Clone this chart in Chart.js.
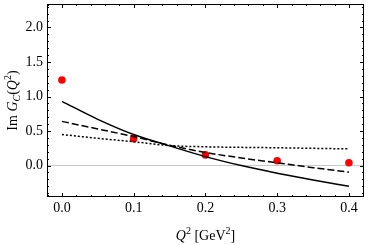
<!DOCTYPE html>
<html>
<head>
<meta charset="utf-8">
<script src="https://cdn.jsdelivr.net/npm/chart.js@4"></script>
<style>
html, body { margin: 0; padding: 0; background: #fff; }
#wrap { width: 368px; height: 245px; }
</style>
</head>
<body>
<div id="wrap"><canvas id="myChart"></canvas></div>
<script>
// data points (red dots)
var qPoints = [0, 0.1, 0.2, 0.3, 0.4];
var gPoints = [1.24, 0.39, 0.155, 0.07, 0.04];
// model curves
var qCurve = [0, 0.05, 0.1, 0.15, 0.2, 0.25, 0.3, 0.35, 0.4];
var solidCurve = [0.93, 0.67, 0.45, 0.285, 0.13, 0.0, -0.11, -0.21, -0.30];
var dashedCurve = [0.64, 0.53, 0.42, 0.295, 0.19, 0.11, 0.04, -0.03, -0.095];
var dottedCurve = [0.45, 0.395, 0.345, 0.29, 0.272, 0.264, 0.258, 0.25, 0.242];
// tick labels
var xTicks = [0, 0.1, 0.2, 0.3, 0.4];
var yTicks = [0, 0.5, 1, 1.5, 2];

var serif = "'Liberation Serif', 'DejaVu Serif', serif";

function pts(xs, ys) {
    return xs.map(function (x, i) { return {x: x, y: ys[i]}; });
}

function curve(ys, dash) {
    return {
        type: 'line',
        data: pts(qCurve, ys),
        borderColor: '#000',
        borderWidth: 1.5,
        borderDash: dash,
        pointRadius: 0,
        cubicInterpolationMode: 'monotone',
        fill: false
    };
}

// draws mixed-style text runs, returns width
function runs(ctx, items, x, y, measureOnly) {
    var w = 0;
    items.forEach(function (r) {
        ctx.font = (r.italic ? 'italic ' : '') + r.size + 'px ' + serif;
        if (!measureOnly) ctx.fillText(r.t, x + w, y + (r.dy || 0));
        w += ctx.measureText(r.t).width;
    });
    return w;
}

var frame = {
    id: 'frame',
    afterDraw: function (chart) {
        var c = chart.ctx, a = chart.chartArea;
        var xs = chart.scales.x, ys = chart.scales.y;
        c.save();
        c.strokeStyle = '#000';
        c.lineWidth = 1;
        c.strokeRect(a.left + 0.5, a.top + 0.5, a.right - a.left - 1, a.bottom - a.top - 1);
        c.beginPath();
        for (var i = -1; i <= 21; i++) {
            var v = i * 0.02;
            var px = Math.round(xs.getPixelForValue(v)) + 0.5;
            if (px < a.left || px > a.right) continue;
            var len = (i % 5 === 0) ? 4 : 2;
            c.moveTo(px, a.bottom); c.lineTo(px, a.bottom - len);
            c.moveTo(px, a.top); c.lineTo(px, a.top + len);
        }
        for (var j = -4; j <= 23; j++) {
            var v2 = j * 0.1;
            var py = Math.round(ys.getPixelForValue(v2)) + 0.5;
            if (py < a.top || py > a.bottom) continue;
            var len2 = (j % 5 === 0) ? 4 : 2;
            c.moveTo(a.left, py); c.lineTo(a.left + len2, py);
            c.moveTo(a.right, py); c.lineTo(a.right - len2, py);
        }
        c.stroke();

        c.fillStyle = '#000';
        // tick labels
        c.font = '14px ' + serif;
        c.textAlign = 'center';
        c.textBaseline = 'middle';
        xTicks.forEach(function (v) {
            c.fillText(v.toFixed(1), xs.getPixelForValue(v), a.bottom + 11);
        });
        c.textAlign = 'right';
        yTicks.forEach(function (v) {
            c.fillText(v.toFixed(1), a.left - 4, ys.getPixelForValue(v));
        });

        c.textAlign = 'left';
        c.textBaseline = 'alphabetic';
        // x title
        var xt = [
            {t: 'Q', italic: true, size: 14},
            {t: '2', size: 10, dy: -6},
            {t: ' [GeV', size: 14},
            {t: '2', size: 10, dy: -6},
            {t: ']', size: 14}
        ];
        var wx = runs(c, xt, 0, 0, true);
        runs(c, xt, (a.left + a.right) / 2 - wx / 2, 240);
        // y title
        var yt = [
            {t: 'Im ', size: 14},
            {t: 'G', italic: true, size: 14},
            {t: 'C', italic: true, size: 10, dy: 3},
            {t: '(', size: 14},
            {t: 'Q', italic: true, size: 14},
            {t: '2', size: 10, dy: -6},
            {t: ')', size: 14}
        ];
        var wy = runs(c, yt, 0, 0, true);
        c.translate(17, (a.top + a.bottom) / 2);
        c.rotate(-Math.PI / 2);
        runs(c, yt, -wy / 2, 0);
        c.restore();
    }
};

var ctx = document.getElementById('myChart').getContext('2d');
var myChart = new Chart(ctx, {
    type: 'scatter',
    data: {
        datasets: [
            curve(solidCurve, []),
            curve(dashedCurve, [7, 3]),
            curve(dottedCurve, [2, 2]),
            {
                type: 'scatter',
                data: pts(qPoints, gPoints),
                backgroundColor: '#ff0000',
                borderColor: '#ff0000',
                pointRadius: 3.8,
                borderWidth: 0
            }
        ]
    },
    plugins: [frame],
    options: {
        responsive: true,
        maintainAspectRatio: false,
        animation: false,
        layout: {padding: {top: 0, right: 3, left: 0, bottom: 0}},
        plugins: {legend: {display: false}, tooltip: {enabled: false}},
        scales: {
            x: {
                type: 'linear',
                min: -0.0208,
                max: 0.421,
                afterBuildTicks: function (s) { s.ticks = xTicks.map(function (v) { return {value: v}; }); },
                afterFit: function (s) { s.height = 48; },
                border: {display: false},
                grid: {display: false},
                ticks: {display: false}
            },
            y: {
                min: -0.455,
                max: 2.34,
                afterBuildTicks: function (s) { s.ticks = yTicks.map(function (v) { return {value: v}; }); },
                afterFit: function (s) { s.width = 47; },
                border: {display: false},
                grid: {
                    drawTicks: false,
                    color: function (c) { return c.tick && c.tick.value === 0 ? '#c8c8c8' : 'rgba(0,0,0,0)'; },
                    lineWidth: 1
                },
                ticks: {display: false}
            }
        }
    }
});
</script>
</body>
</html>
